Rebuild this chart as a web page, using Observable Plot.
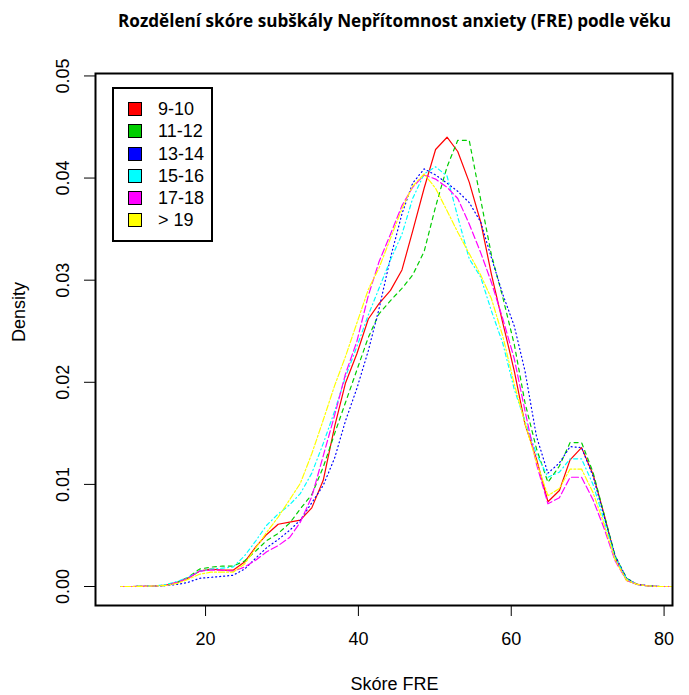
<!DOCTYPE html>
<html><head><meta charset="utf-8">
<script src="https://cdn.jsdelivr.net/npm/d3@7"></script>
<script src="https://cdn.jsdelivr.net/npm/@observablehq/plot@0.6"></script>
<style>
body{margin:0;background:#fff;}
#chart{position:relative;width:689px;height:695px;overflow:hidden;}
.legend{position:absolute;left:112px;top:87px;width:101px;height:155px;box-sizing:border-box;border:2px solid #000;background:#fff;font-family:"Liberation Sans",Arial,sans-serif;font-size:18px;color:#000;}
.sw{position:absolute;width:14px;height:14px;box-sizing:border-box;border:1.5px solid #000;}
.lt{position:absolute;line-height:22px;white-space:nowrap;}
</style>
</head><body>
<div id="chart"></div>
<script>
const titleText = "Rozdělení skóre subškály Nepřítomnost anxiety (FRE) podle věku";
const xLabel = "Skóre FRE";
const yLabel = "Density";
const groups = ["9-10","11-12","13-14","15-16","17-18","> 19"];
const colors = ["#FF0000","#00CD00","#0000FF","#00FFFF","#FF00FF","#FFFF00"];
const dashes = ["none","4,4","1,3","1,3,4,3","7,3","2,2,6,2"];
const xTicks = [20,40,60,80];
const yTicks = [0,0.01,0.02,0.03,0.04,0.05];

const grid = [8.9,10.4,11.9,13.3,14.8,16.3,17.7,19.2,20.7,22.2,
  23.6,25.1,26.6,28.0,29.5,31.0,32.4,33.9,35.4,36.9,
  38.3,39.8,41.3,42.7,44.2,45.7,47.1,48.6,50.1,51.6,
  53.0,54.5,56.0,57.4,58.9,60.4,61.8,63.3,64.8,66.3,
  67.7,69.2,70.7,72.1,73.6,75.1,76.5,78.0,79.5,81.0];

const d910 = [0,0,0.00002,0.00005,0.00015,0.0004,0.0008,0.0015,0.0017,0.0016,
  0.0016,0.0024,0.0039,0.0051,0.0061,0.0063,0.0065,0.0077,0.0104,0.0157,
  0.0199,0.0228,0.0262,0.0277,0.0290,0.0310,0.0348,0.0390,0.0428,0.0440,
  0.0426,0.0396,0.0357,0.0306,0.0258,0.0211,0.0159,0.0125,0.0083,0.0094,
  0.0124,0.0136,0.0110,0.0072,0.0028,0.0006,0.0002,0.00005,0,0];
const d1112 = [0,0,0.00002,0.00005,0.0001,0.0004,0.0009,0.0017,0.0019,0.0020,
  0.0020,0.0025,0.0035,0.0045,0.0052,0.0062,0.0076,0.0090,0.0117,0.0150,
  0.0180,0.0212,0.0244,0.0267,0.0280,0.0292,0.0305,0.0328,0.0372,0.0411,
  0.0437,0.0437,0.0379,0.0325,0.0283,0.0237,0.0180,0.0135,0.0102,0.0118,
  0.0141,0.0141,0.0112,0.0072,0.0030,0.0008,0.0002,0.00005,0,0];
const d1314 = [0,0,0.00001,0.00003,0.0001,0.0002,0.0004,0.0008,0.0009,0.0010,
  0.0011,0.0017,0.0028,0.0038,0.0046,0.0055,0.0065,0.0082,0.0099,0.0126,
  0.0162,0.0194,0.0231,0.0272,0.0322,0.0365,0.0395,0.0409,0.0403,0.0395,
  0.0387,0.0376,0.0357,0.0322,0.0286,0.0255,0.0211,0.0147,0.0111,0.0121,
  0.0137,0.0136,0.0108,0.0070,0.0030,0.0008,0.0002,0.00005,0,0];
const d1516 = [0,0,0.00002,0.00005,0.0002,0.0005,0.0009,0.0015,0.0017,0.0018,
  0.0019,0.0030,0.0045,0.0060,0.0071,0.0080,0.0091,0.0111,0.0140,0.0172,
  0.0205,0.0235,0.0266,0.0292,0.0320,0.0345,0.0380,0.0404,0.0411,0.0402,
  0.0362,0.0321,0.0303,0.0270,0.0238,0.0193,0.0162,0.0130,0.0107,0.0112,
  0.0125,0.0125,0.0100,0.0066,0.0028,0.0007,0.0002,0.00005,0,0];
const d1718 = [0,0,0.00002,0.00005,0.0001,0.0004,0.0008,0.0015,0.0016,0.0016,
  0.0015,0.0019,0.0026,0.0034,0.0040,0.0048,0.0063,0.0088,0.0128,0.0168,
  0.0208,0.0240,0.0285,0.0318,0.0345,0.0373,0.0391,0.0403,0.0399,0.0391,
  0.0380,0.0355,0.0327,0.0298,0.0262,0.0223,0.0172,0.0120,0.0081,0.0087,
  0.0107,0.0107,0.0085,0.0058,0.0025,0.0006,0.0002,0.00005,0,0];
const d19 = [0,0,0.00002,0.00005,0.0001,0.0003,0.0007,0.0012,0.0014,0.0014,
  0.0014,0.0022,0.0038,0.0053,0.0068,0.0085,0.0101,0.0130,0.0163,0.0197,
  0.0225,0.0258,0.0291,0.0312,0.0341,0.0370,0.0392,0.0404,0.0390,0.0368,
  0.0347,0.0326,0.0305,0.0282,0.0245,0.0198,0.0160,0.0122,0.0089,0.0096,
  0.0115,0.0115,0.0092,0.0062,0.0026,0.0006,0.0002,0.00005,0,0];

const series = [d910,d1112,d1314,d1516,d1718,d19];

const lineMarks = groups.map((g,i) => Plot.line(
  grid.map((x,j) => ({x, d: series[i][j]})),
  {x:"x", y:"d", stroke: colors[i], strokeWidth: 1.2, strokeDasharray: dashes[i]}
));

const svg = Plot.plot({
  width: 689, height: 695,
  marginLeft: 95, marginRight: 17, marginTop: 73, marginBottom: 90,
  style: {fontFamily: '"Liberation Sans", Arial, sans-serif', fontSize: "18px", color: "#000", background: "#fff"},
  x: {domain: [5.6, 81.1]},
  y: {domain: [-0.00186, 0.05024]},
  marks: [
    Plot.axisX({ticks: xTicks, tickSize: 11, tickPadding: 16, fontSize: 18, label: null, stroke: "#000"}),
    Plot.axisY({ticks: yTicks, tickSize: 11, tickFormat: () => "", label: null, stroke: "#000"}),
    Plot.text(yTicks, {y: d => d, frameAnchor: "left", dx: -32.5, rotate: -90, text: d => d.toFixed(2), textAnchor: "middle", lineAnchor: "middle", fontSize: 18, fill: "#000"}),
    Plot.text([xLabel], {frameAnchor: "bottom", dx: 10.5, dy: 79, text: d => d, lineAnchor: "middle", fontSize: 18, fill: "#000"}),
    Plot.text([yLabel], {frameAnchor: "left", dx: -76, dy: 2.5, rotate: -90, text: d => d, lineAnchor: "middle", fontSize: 18, fill: "#000"}),
    ...lineMarks,
    Plot.frame({stroke: "#000", strokeWidth: 2})
  ]
});

d3.select(svg).append("text")
  .attr("x", 394.5).attr("y", 27)
  .attr("text-anchor", "middle")
  .attr("font-family", '"Open Sans", sans-serif')
  .attr("font-weight", "bold")
  .attr("font-size", 17)
  .attr("textLength", 553)
  .attr("lengthAdjust", "spacingAndGlyphs")
  .attr("fill", "#000")
  .text(titleText);

const chart = document.getElementById("chart");
chart.appendChild(svg);

const legend = document.createElement("div");
legend.className = "legend";
groups.forEach((g,i) => {
  const cy = 20.3 + 22.1*i;
  const sw = document.createElement("div");
  sw.className = "sw";
  sw.style.left = "14px";
  sw.style.top = (cy - 7) + "px";
  sw.style.background = colors[i];
  legend.appendChild(sw);
  const t = document.createElement("div");
  t.className = "lt";
  t.style.left = "44px";
  t.style.top = (cy - 11) + "px";
  t.textContent = g;
  legend.appendChild(t);
});
chart.appendChild(legend);
</script>
</body></html>
